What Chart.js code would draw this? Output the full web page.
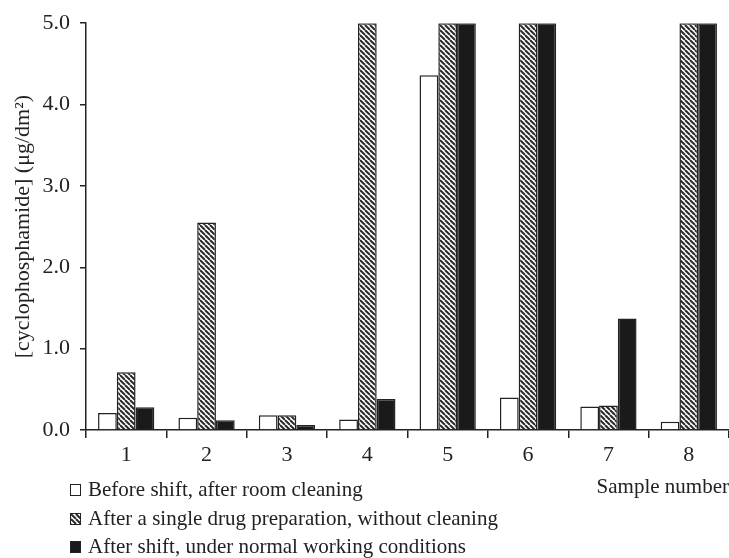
<!DOCTYPE html>
<html>
<head>
<meta charset="utf-8">
<script src="https://cdn.jsdelivr.net/npm/chart.js@4.4.1/dist/chart.umd.min.js"></script>
<style>
  html, body { margin: 0; padding: 0; background: #fff; }
  #wrap { position: relative; width: 729px; height: 558px; }
  #legend {
    position: absolute; left: 70px; top: 475px;
    font-family: "Liberation Serif", serif; font-size: 21px; color: #222;
  }
  #legend div { line-height: 28.5px; height: 28.5px; white-space: nowrap; position: relative; padding-left: 18px; }
  #legend span.box {
    position: absolute; left: 0; top: 9px; width: 9px; height: 10px;
    border: 1.5px solid #222; box-sizing: content-box;
  }
</style>
</head>
<body>
<div id="wrap">
  <canvas id="chart" width="729" height="558"></canvas>
  <div id="legend"></div>
</div>
<script>
const samples = ['1', '2', '3', '4', '5', '6', '7', '8'];
const beforeShift = [0.21, 0.15, 0.18, 0.13, 4.36, 0.40, 0.29, 0.10];
const afterSingle = [0.71, 2.55, 0.18, 5.0, 5.0, 5.0, 0.30, 5.0];
const afterShift = [0.28, 0.12, 0.06, 0.38, 5.0, 5.0, 1.37, 5.0];
const seriesNames = [
  'Before shift, after room cleaning',
  'After a single drug preparation, without cleaning',
  'After shift, under normal working conditions'
];

const ink = '#222';
const font = 'Liberation Serif';

// diagonal hatch, stripes running top-left to bottom-right
function makeHatch() {
  const s = 5;
  const c = document.createElement('canvas');
  c.width = s; c.height = s;
  const g = c.getContext('2d');
  g.fillStyle = '#fff';
  g.fillRect(0, 0, s, s);
  g.strokeStyle = '#2a2a2a';
  g.lineWidth = 2;
  for (let k = -1; k <= 1; k++) {
    g.beginPath();
    g.moveTo(k * s, 0);
    g.lineTo(k * s + s, s);
    g.stroke();
  }
  return c;
}

const hatchCanvas = makeHatch();
const ctx = document.getElementById('chart').getContext('2d');
const hatch = ctx.createPattern(hatchCanvas, 'repeat');

const fills = ['#ffffff', hatch, '#1a1a1a'];

new Chart(ctx, {
  type: 'bar',
  data: {
    labels: samples,
    datasets: [beforeShift, afterSingle, afterShift].map((data, i) => ({
      label: seriesNames[i],
      data,
      backgroundColor: fills[i],
      borderColor: ink,
      borderWidth: 1.5,
      borderSkipped: 'bottom',
      barPercentage: 1,
      categoryPercentage: 0.7
    }))
  },
  options: {
    responsive: false,
    animation: false,
    layout: { padding: { top: 19, right: 0, bottom: 0, left: 0 } },
    plugins: { legend: { display: false }, tooltip: { enabled: false } },
    scales: {
      x: {
        grid: { drawOnChartArea: false, tickLength: 8, color: ink, lineWidth: 1.5, offset: true },
        border: { color: ink, width: 1.5 },
        ticks: { color: ink, font: { family: font, size: 22 }, padding: 4 },
        title: {
          display: true, text: 'Sample number', align: 'end',
          color: ink, font: { family: font, size: 21 },
          padding: { top: 0, bottom: 58 }
        },
        afterFit: scale => { scale.height = 128; }
      },
      y: {
        min: 0, max: 5,
        grid: { drawOnChartArea: false, tickLength: 6, color: ink, lineWidth: 1.5 },
        border: { color: ink, width: 1.5 },
        ticks: {
          stepSize: 1, color: ink, font: { family: font, size: 22 }, padding: 10,
          callback: v => v.toFixed(1)
        },
        title: {
          display: true, text: '[cyclophosphamide] (μg/dm²)',
          color: ink, font: { family: font, size: 22 },
          padding: { top: 10, bottom: 0 }
        },
        afterFit: scale => { scale.width = 86; }
      }
    }
  }
});

const legend = document.getElementById('legend');
const swatchBg = ['#fff', 'url(' + hatchCanvas.toDataURL() + ')', '#1a1a1a'];
seriesNames.forEach((name, i) => {
  const row = document.createElement('div');
  const box = document.createElement('span');
  box.className = 'box';
  box.style.background = swatchBg[i];
  row.appendChild(box);
  row.appendChild(document.createTextNode(name));
  legend.appendChild(row);
});
</script>
</body>
</html>
